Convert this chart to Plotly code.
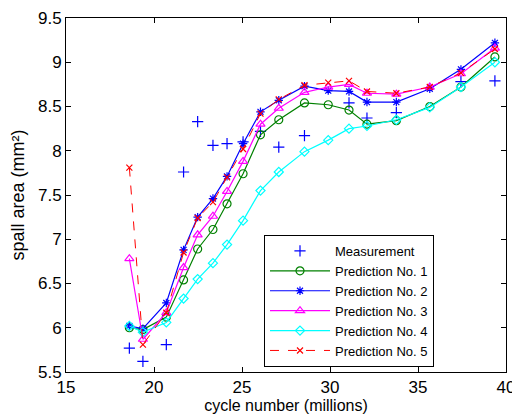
import plotly.graph_objects as go

cycles = [18.6, 19.37, 20.7, 21.68, 22.48, 23.35, 24.15, 25.06, 26.05, 27.09,
          28.55, 29.9, 31.08, 32.1, 33.77, 35.67, 37.44, 39.37]

measurement = [5.77, 5.62, 5.81, 7.76, 8.33, 8.06, 8.08, 8.10, 8.22, 8.04,
               8.17, None, 8.54, 8.37, 8.43, None, 8.78, 8.79]
pred1 = [6.00, 5.98, 6.12, 6.54, 6.89, 7.11, 7.40, 7.74, 8.18, 8.35,
         8.54, 8.52, 8.46, 8.30, 8.34, 8.50, 8.72, 9.06]
pred2 = [6.02, 5.99, 6.28, 6.88, 7.25, 7.46, 7.71, 8.08, 8.44, 8.57,
         8.73, 8.68, 8.67, 8.55, 8.55, 8.70, 8.92, 9.22]
pred3 = [6.78, 5.87, 6.17, 6.68, 7.05, 7.26, 7.54, 7.88, 8.30, 8.48,
         8.66, 8.72, 8.75, 8.65, 8.64, 8.72, 8.87, 9.16]
pred4 = [6.02, 5.95, 6.06, 6.33, 6.55, 6.73, 6.94, 7.21, 7.55, 7.76,
         7.99, 8.12, 8.25, 8.28, 8.35, 8.49, 8.72, 9.00]
pred5 = [7.81, 5.81, 6.17, 6.85, 7.24, 7.42, 7.70, 8.02, 8.42, 8.58,
         8.74, 8.77, 8.79, 8.67, 8.65, 8.72, 8.88, 9.15]

x_ticks = [15, 20, 25, 30, 35, 40]
y_ticks = [5.5, 6, 6.5, 7, 7.5, 8, 8.5, 9, 9.5]
y_tick_labels = ["5.5", "6", "6.5", "7", "7.5", "8", "8.5", "9", "9.5"]

FONT = "Liberation Sans, Arial, sans-serif"

fig = go.Figure()
fig.add_trace(go.Scatter(
    x=cycles, y=measurement, mode="markers", name="Measurement",
    marker=dict(symbol="cross-thin", size=8, color="#0000ff",
                line=dict(color="#0000ff", width=1.2))))
fig.add_trace(go.Scatter(
    x=cycles, y=pred1, mode="lines+markers", name="Prediction No. 1",
    line=dict(color="#008000", width=1.2),
    marker=dict(symbol="circle-open", size=8, color="#008000",
                line=dict(color="#008000", width=1.2))))
fig.add_trace(go.Scatter(
    x=cycles, y=pred2, mode="lines+markers", name="Prediction No. 2",
    line=dict(color="#0000ff", width=1.2),
    marker=dict(symbol="asterisk-open", size=7, color="#0000ff",
                line=dict(color="#0000ff", width=1.2))))
fig.add_trace(go.Scatter(
    x=cycles, y=pred3, mode="lines+markers", name="Prediction No. 3",
    line=dict(color="#ff00ff", width=1.2),
    marker=dict(symbol="triangle-up-open", size=8, color="#ff00ff",
                line=dict(color="#ff00ff", width=1.2))))
fig.add_trace(go.Scatter(
    x=cycles, y=pred4, mode="lines+markers", name="Prediction No. 4",
    line=dict(color="#00ffff", width=1.2),
    marker=dict(symbol="diamond-open", size=7, color="#00ffff",
                line=dict(color="#00ffff", width=1.2))))
fig.add_trace(go.Scatter(
    x=cycles, y=pred5, mode="lines+markers", name="Prediction No. 5",
    line=dict(color="#ff0000", width=1, dash="dash"),
    marker=dict(symbol="x-thin-open", size=6, color="#ff0000",
                line=dict(color="#ff0000", width=1.2))))

axis_common = dict(
    showgrid=False, zeroline=False, showline=True, linecolor="black",
    linewidth=1, mirror="ticks", ticks="inside", ticklen=5,
    tickcolor="black", tickfont=dict(size=17, color="black", family=FONT),
    automargin=False, ticklabeloverflow="allow",
)

fig.update_layout(
    width=520, height=415,
    margin=dict(l=58, r=22, t=10, b=51),
    paper_bgcolor="white", plot_bgcolor="white",
    font=dict(family=FONT, color="black", size=17),
    xaxis=dict(range=[15, 40], tickvals=x_ticks,
               title=dict(text="cycle number (millions)", standoff=0,
                          font=dict(size=16)),
               **axis_common),
    yaxis=dict(range=[5.5, 9.5], tickvals=y_ticks, ticktext=y_tick_labels,
               title=dict(text="spall area (mm²)", standoff=12,
                          font=dict(size=18)),
               **axis_common),
    legend=dict(x=0.45, y=0.387, xanchor="left", yanchor="top",
                bgcolor="white", bordercolor="black", borderwidth=1,
                font=dict(size=13, family=FONT), tracegroupgap=0,
                itemwidth=60),
    showlegend=True,
)

fig.write_html("out.html")
